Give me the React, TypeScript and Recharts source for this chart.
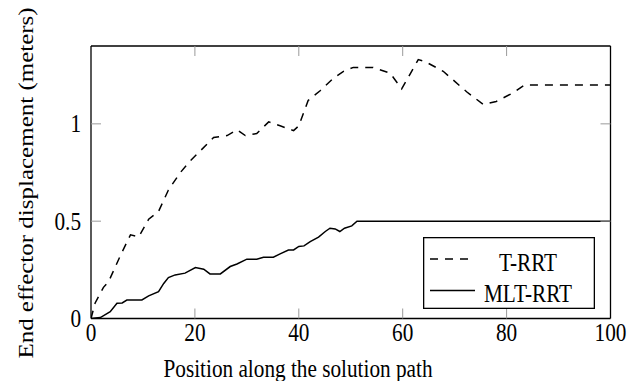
import { LineChart, Line, XAxis, YAxis, Legend } from 'recharts';

const xTicks = [0, 20, 40, 60, 80, 100];
const yTicks = [0, 0.5, 1];
const seriesNames = ['T-RRT', 'MLT-RRT'];

// T-RRT (dashed)
const tRrtX = [0, 0.8, 2.4, 3.4, 5.6, 7.6, 9.2, 11.1, 13, 14.9, 17.2, 19.1, 21, 23.6, 26.2, 28.1, 29.7, 31.9, 34.2, 36.4, 39, 40, 41.8, 44.1, 46.7, 48.6, 50.5, 54.3, 57.6, 59.8, 63, 64.3, 67.8, 72.3, 75.5, 78, 81.3, 83.5, 100];
const tRrtY = [0, 0.08, 0.16, 0.19, 0.32, 0.43, 0.42, 0.51, 0.55, 0.66, 0.75, 0.81, 0.86, 0.93, 0.94, 0.97, 0.94, 0.95, 1.01, 0.99, 0.965, 0.99, 1.12, 1.17, 1.235, 1.27, 1.29, 1.29, 1.26, 1.18, 1.33, 1.32, 1.27, 1.165, 1.1, 1.115, 1.16, 1.2, 1.2];

// MLT-RRT (solid)
const mltX = [0, 1.8, 3.7, 5, 6, 6.9, 9.8, 11.1, 13, 14, 14.9, 16.2, 18.1, 20.1, 21.7, 22.9, 24.9, 26.8, 28.1, 30, 31.9, 33.2, 35.1, 36.4, 38, 39, 40, 41, 42.2, 43.8, 45.1, 46, 47, 47.9, 48.8, 50.2, 51.2, 100];
const mltY = [0, 0.005, 0.035, 0.078, 0.08, 0.095, 0.095, 0.116, 0.138, 0.18, 0.21, 0.224, 0.233, 0.262, 0.253, 0.229, 0.229, 0.267, 0.28, 0.305, 0.305, 0.315, 0.315, 0.332, 0.352, 0.352, 0.37, 0.373, 0.395, 0.418, 0.447, 0.464, 0.46, 0.447, 0.464, 0.476, 0.5, 0.5];

const tRrtData = tRrtX.map((x, i) => ({ x, y: tRrtY[i] }));
const mltData = mltX.map((x, i) => ({ x, y: mltY[i] }));

const FONT = 'Liberation Serif, DejaVu Serif, serif';
const TICK_GRAY = '#9a9a9a';
const FRAME = { stroke: '#000', strokeWidth: 1.3 };

// the source figure is squeezed horizontally, so text gets scale(0.85, 1)
function SText({ x, y, anchor = 'middle', children }: any) {
  return (
    <text
      transform={`translate(${x},${y}) scale(0.85,1)`}
      textAnchor={anchor}
      fontSize={25}
      fontFamily={FONT}
      fill="#000"
    >
      {children}
    </text>
  );
}

function BottomTick({ x, y, payload }: any) {
  const v = payload.value;
  return (
    <g>
      {v > 0 && v < 100 && <line x1={x} x2={x} y1={y} y2={y - 10} stroke={TICK_GRAY} />}
      <SText x={x} y={y + 22}>{v}</SText>
    </g>
  );
}

function TopTick({ x, y, payload }: any) {
  const v = payload.value;
  if (v <= 0 || v >= 100) return <g />;
  return <line x1={x} x2={x} y1={y} y2={y + 10} stroke={TICK_GRAY} />;
}

function LeftTick({ x, y, payload }: any) {
  const v = payload.value;
  return (
    <g>
      {v > 0 && <line x1={x} x2={x + 10} y1={y} y2={y} stroke={TICK_GRAY} />}
      <SText x={x - 10} y={y + 8.5} anchor="end">{v}</SText>
    </g>
  );
}

function RightTick({ x, y, payload }: any) {
  const v = payload.value;
  if (v <= 0) return <g />;
  return <line x1={x} x2={x - 10} y1={y} y2={y} stroke={TICK_GRAY} />;
}

function YLabel() {
  return (
    <text
      transform="translate(33,183) scale(0.85,1) rotate(-90)"
      textAnchor="middle"
      fontSize={25}
      fontFamily={FONT}
      fill="#000"
    >
      End effector displacement (meters)
    </text>
  );
}

function XLabel() {
  return <SText x={298} y={377}>Position along the solution path</SText>;
}

function LegendBox({ payload }: any) {
  const items = seriesNames
    .map((n) => (payload ?? []).find((p: any) => p.value === n))
    .filter(Boolean);
  return (
    <svg width={172} height={72} style={{ display: 'block' }}>
      <rect x={0.65} y={0.65} width={170.7} height={70.7} fill="#fff" stroke="#000" strokeWidth={1.3} />
      {items.map((it: any, i: number) => {
        const ly = i === 0 ? 22 : 53.5;
        return (
          <g key={it.value}>
            <line
              x1={7}
              x2={i === 0 ? 47 : 52}
              y1={ly}
              y2={ly}
              stroke="#000"
              strokeWidth={1.5}
              strokeDasharray={it.payload?.strokeDasharray}
            />
            <SText x={105} y={ly + 11.5}>{it.value}</SText>
          </g>
        );
      })}
    </svg>
  );
}

export default function App() {
  return (
    <div style={{ position: 'absolute', left: 0, top: 0, background: '#fff', fontFamily: FONT }}>
      <LineChart width={630} height={381} margin={{ top: 45, right: 18.5, bottom: 61.5, left: 90 }}>
        <XAxis
          xAxisId="b"
          type="number"
          dataKey="x"
          domain={[0, 100]}
          ticks={xTicks}
          interval={0}
          allowDataOverflow
          height={1}
          tickSize={0}
          tickMargin={0}
          tickLine={false}
          axisLine={FRAME}
          tick={<BottomTick />}
          label={<XLabel />}
        />
        <XAxis
          xAxisId="t"
          orientation="top"
          type="number"
          dataKey="x"
          domain={[0, 100]}
          ticks={xTicks}
          interval={0}
          allowDataOverflow
          height={1}
          tickSize={0}
          tickMargin={0}
          tickLine={false}
          axisLine={FRAME}
          tick={<TopTick />}
        />
        <YAxis
          yAxisId="l"
          type="number"
          domain={[0, 1.4]}
          ticks={yTicks}
          interval={0}
          allowDataOverflow
          width={1}
          tickSize={0}
          tickMargin={0}
          tickLine={false}
          axisLine={FRAME}
          tick={<LeftTick />}
          label={<YLabel />}
        />
        <YAxis
          yAxisId="r"
          orientation="right"
          type="number"
          domain={[0, 1.4]}
          ticks={yTicks}
          interval={0}
          allowDataOverflow
          width={1}
          tickSize={0}
          tickMargin={0}
          tickLine={false}
          axisLine={FRAME}
          tick={<RightTick />}
        />
        <Legend
          layout="horizontal"
          verticalAlign="middle"
          align="center"
          content={<LegendBox />}
          wrapperStyle={{ position: 'absolute', left: 423, top: 237, width: 172, height: 72 }}
        />
        <Line
          xAxisId="b"
          yAxisId="l"
          data={tRrtData}
          dataKey="y"
          name="T-RRT"
          type="linear"
          stroke="#000"
          strokeWidth={1.5}
          strokeDasharray="8 7"
          dot={false}
          isAnimationActive={false}
        />
        <Line
          xAxisId="t"
          yAxisId="r"
          data={mltData}
          dataKey="y"
          name="MLT-RRT"
          type="linear"
          stroke="#000"
          strokeWidth={1.5}
          dot={false}
          isAnimationActive={false}
        />
      </LineChart>
    </div>
  );
}
